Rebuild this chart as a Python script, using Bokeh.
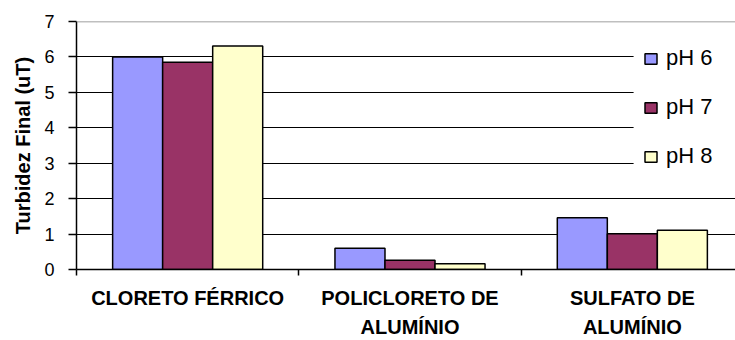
from bokeh.plotting import figure
from bokeh.models import (ColumnDataSource, FixedTicker, Range1d, Span, LinearAxis,
                          Legend, LegendItem, BoxAnnotation)
from bokeh.transform import dodge
from bokeh.embed import file_html
from bokeh.resources import INLINE

cat_line1 = ["CLORETO FÉRRICO", "POLICLORETO DE", "SULFATO DE"]
cat_line2 = ["", "ALUMÍNIO", "ALUMÍNIO"]
series_names = ["pH 6", "pH 7", "pH 8"]
ph6 = [6.0, 0.60, 1.46]
ph7 = [5.85, 0.26, 1.01]
ph8 = [6.31, 0.16, 1.11]
y_ticks = [0, 1, 2, 3, 4, 5, 6, 7]
y_label = "Turbidez Final (uT)"

colors = ["#9999FF", "#993366", "#FFFFCC"]
FONT = "Liberation Sans"

centers = [i + 0.5 for i in range(len(cat_line1))]
bounds = [float(i) for i in range(len(cat_line1) + 1)]
source = ColumnDataSource(dict(x=centers, ph6=ph6, ph7=ph7, ph8=ph8))

p = figure(width=735, height=340, output_backend="svg", toolbar_location=None,
           x_range=Range1d(0, 2.964), y_range=Range1d(0, 7),
           min_border_left=76, min_border_right=0, min_border_top=21,
           min_border_bottom=71, x_axis_type=None)
p.outline_line_color = None
p.background_fill_color = "white"
p.border_fill_color = "white"

# gridlines
p.xgrid.visible = False
p.ygrid.ticker = FixedTicker(ticks=y_ticks[1:-1])
p.ygrid.grid_line_color = "black"
p.ygrid.grid_line_width = 1
p.add_layout(Span(location=y_ticks[-1], dimension="width", line_color="#808080", line_width=1.5))

bar_w = 0.225
renderers = []
for name, col, off, c in zip(series_names, ["ph6", "ph7", "ph8"], [-bar_w, 0, bar_w], colors):
    r = p.vbar(x=dodge("x", off, range=p.x_range), top=col, width=bar_w, bottom=0,
               source=source, fill_color=c, line_color="black", line_width=1.5)
    renderers.append((name, r))

# y axis
p.yaxis.ticker = FixedTicker(ticks=y_ticks)
p.yaxis.minor_tick_line_color = None
p.yaxis.major_tick_in = 0
p.yaxis.major_tick_out = 8
p.yaxis.major_tick_line_color = "black"
p.yaxis.major_tick_line_width = 1.5
p.yaxis.axis_line_color = "black"
p.yaxis.axis_line_width = 1.5
p.yaxis.major_label_text_font = FONT
p.yaxis.major_label_text_font_size = "18px"
p.yaxis.major_label_text_color = "black"
p.yaxis.major_label_standoff = 14
p.yaxis.axis_label = y_label
p.yaxis.axis_label_text_font = FONT
p.yaxis.axis_label_text_font_size = "20px"
p.yaxis.axis_label_text_font_style = "bold"
p.yaxis.axis_label_text_color = "black"
p.yaxis.axis_label_standoff = 7

# x axis: first label line, boundary ticks as minor ticks
xa = LinearAxis(ticker=FixedTicker(ticks=centers, minor_ticks=bounds),
                major_label_overrides={c: t for c, t in zip(centers, cat_line1)},
                major_tick_in=0, major_tick_out=0,
                minor_tick_in=0, minor_tick_out=6,
                minor_tick_line_color="black", minor_tick_line_width=1.5,
                axis_line_color="black", axis_line_width=1.5,
                major_label_standoff=11, major_label_text_font=FONT,
                major_label_text_font_size="20px", major_label_text_font_style="bold",
                major_label_text_color="black")
p.add_layout(xa, "below")
xb = LinearAxis(ticker=FixedTicker(ticks=centers, minor_ticks=[]),
                major_label_overrides={c: t if t else " " for c, t in zip(centers, cat_line2)},
                major_tick_in=0, major_tick_out=0, minor_tick_line_color=None,
                major_tick_line_color=None, axis_line_color=None,
                major_label_standoff=4, major_label_text_font=FONT,
                major_label_text_font_size="20px", major_label_text_font_style="bold",
                major_label_text_color="black")
p.add_layout(xb, "below")

# white area behind the legend (legend sits over the gridlines)
unit = 248 / 7.0
p.add_layout(BoxAnnotation(left=(633 - 76) / 222.3, right=2.964,
                           top=(269 - 30) / unit, bottom=(269 - 183) / unit,
                           fill_color="white", fill_alpha=1.0, line_color=None))

legend = Legend(items=[LegendItem(label=n, renderers=[r]) for n, r in renderers],
                location=(567, 100), orientation="vertical",
                label_text_font=FONT, label_text_font_size="22px", label_text_color="black",
                glyph_width=15, glyph_height=13, label_height=13, label_standoff=8,
                spacing=23, padding=12, margin=0,
                background_fill_color="white", background_fill_alpha=1.0,
                border_line_color=None)
p.add_layout(legend)

open("out.html", "w").write(file_html(p, INLINE))
